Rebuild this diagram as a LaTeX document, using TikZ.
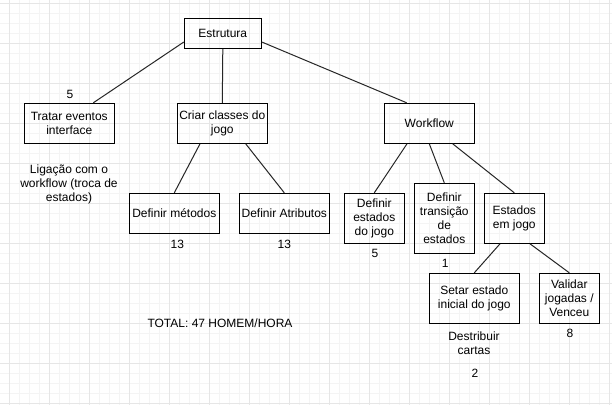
\documentclass[tikz,border=0pt]{standalone}
\usepackage{fontspec}
\setmainfont{Liberation Sans}
\definecolor{gridmajor}{HTML}{E6E6E6}
\definecolor{gridminor}{HTML}{F4F4F4}
\begin{document}
\begin{tikzpicture}[x=1pt,y=-1pt,
  box/.style={draw=black,line width=1pt,rectangle,inner sep=0pt,align=center,
    font=\fontsize{12}{14}\selectfont},
  lbl/.style={inner sep=0pt,align=center,font=\fontsize{12}{14}\selectfont},
  conn/.style={draw=black!85,line width=1pt}]
\useasboundingbox (0,0) rectangle (612,405);
\fill[white] (0,0) rectangle (612,405);
% grid
\foreach \x in {-0.5,9.5,...,612} \draw[gridminor,line width=0.8pt] (\x,0) -- (\x,405);
\foreach \y in {3,13,...,405} \draw[gridminor,line width=0.8pt] (0,\y) -- (612,\y);
\foreach \x in {9.5,49.5,...,612} \draw[gridmajor,line width=0.8pt] (\x,0) -- (\x,405);
\foreach \y in {3,43,...,405} \draw[gridmajor,line width=0.8pt] (0,\y) -- (612,\y);
% boxes
\node[box,minimum width=77pt,minimum height=30pt] (est) at (222.8,33.3) {Estrutura};
\node[box,minimum width=90pt,minimum height=40pt] (tra) at (69.3,123.3) {Tratar eventos\\interface};
\node[box,minimum width=90pt,minimum height=40pt] (cri) at (222.3,123.3) {Criar classes do\\jogo};
\node[box,minimum width=90pt,minimum height=40pt] (wor) at (429.3,123.3) {Workflow};
\node[box,minimum width=90pt,minimum height=40pt] (met) at (174.3,213.3) {Definir métodos};
\node[box,minimum width=90pt,minimum height=40pt] (atr) at (284.3,213.3) {Definir Atributos};
\node[box,minimum width=60pt,minimum height=50pt] (des) at (374.3,218.3) {Definir\\estados\\do jogo};
\node[box,minimum width=60pt,minimum height=70pt] (trn) at (444.3,218.3) {Definir\\transição\\de\\estados};
\node[box,minimum width=60pt,minimum height=50pt] (eej) at (514.3,218.3) {Estados\\em jogo};
\node[box,minimum width=90pt,minimum height=50pt] (set) at (474.3,298.3) {Setar estado\\inicial do jogo};
\node[box,minimum width=60pt,minimum height=50pt] (val) at (569.3,298.3) {Validar\\jogadas /\\Venceu};
% connectors
\draw[conn] ([yshift=-8.7pt]est.west) -- ([xshift=24pt]tra.north);
\draw[conn] (est.south) -- (cri.north);
\draw[conn] ([yshift=-8.7pt]est.east) -- ([xshift=-22.6pt]wor.north);
\draw[conn] ([xshift=-22.3pt]cri.south) -- (met.north);
\draw[conn] ([xshift=23.4pt]cri.south) -- (atr.north);
\draw[conn] ([xshift=-22.3pt]wor.south) -- (des.north);
\draw[conn] (wor.south) -- (trn.north);
\draw[conn] ([xshift=23.4pt]wor.south) -- (eej.north);
\draw[conn] ([xshift=-14.3pt]eej.south) -- (set.north);
\draw[conn] ([xshift=15.7pt]eej.south) -- (val.north);
% labels
\node[lbl] (n5a) at (70,94) {5};
\node[lbl] (lig) at (69,184) {Ligação com o\\workflow (troca de\\estados)};
\node[lbl] (n13a) at (177.3,244) {13};
\node[lbl] (n13b) at (284.3,244) {13};
\node[lbl] (n5b) at (375,253) {5};
\node[lbl] (n1) at (445.3,263) {1};
\node[lbl] (tot) at (220,323.3) {TOTAL: 47 HOMEM/HORA};
\node[lbl] (dst) at (474,343.3) {Destribuir\\cartas};
\node[lbl] (n2) at (475,373.3) {2};
\node[lbl] (n8) at (570,333.3) {8};
\end{tikzpicture}
\end{document}
